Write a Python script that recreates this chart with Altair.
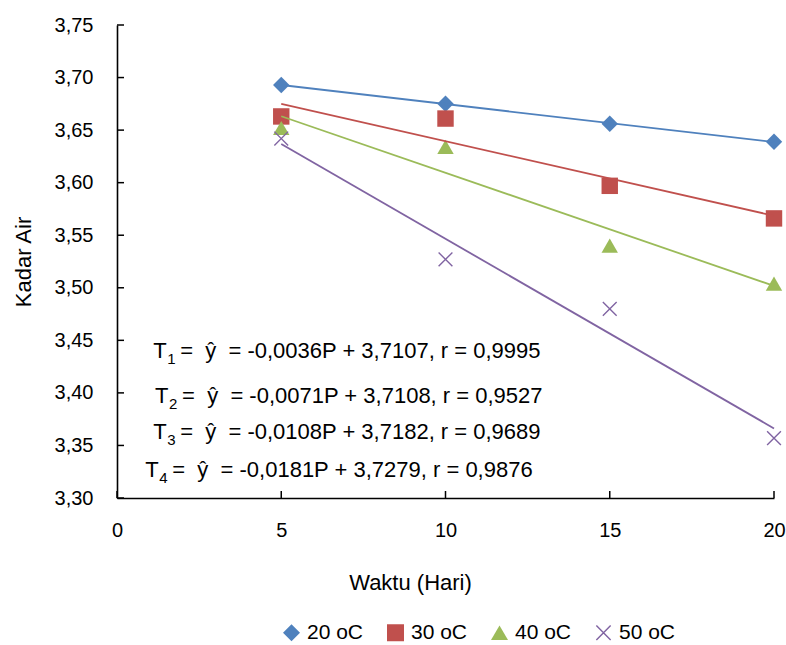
import altair as alt
import pandas as pd

# ---- data ----
waktu = [5, 10, 15, 20]
series_names = ["20 oC", "30 oC", "40 oC", "50 oC"]
kadar_20 = [3.693, 3.675, 3.656, 3.639]
kadar_30 = [3.663, 3.661, 3.597, 3.566]
kadar_40 = [3.652, 3.634, 3.540, 3.504]
kadar_50 = [3.642, 3.527, 3.480, 3.357]

x_ticks = [0, 5, 10, 15, 20]
y_ticks = [3.30, 3.35, 3.40, 3.45, 3.50, 3.55, 3.60, 3.65, 3.70, 3.75]

eq_sub = ["1", "2", "3", "4"]
eq_text = [
    "=\u00a0\u00a0\u0177\u00a0\u00a0= -0,0036P + 3,7107, r = 0,9995",
    "=\u00a0\u00a0\u0177\u00a0\u00a0= -0,0071P + 3,7108, r = 0,9527",
    "=\u00a0\u00a0\u0177\u00a0\u00a0= -0,0108P + 3,7182, r = 0,9689",
    "=\u00a0\u00a0\u0177\u00a0\u00a0= -0,0181P + 3,7279, r = 0,9876",
]
# annotation anchor positions (data coordinates)
eq_x = [1.10, 1.16, 1.10, 0.86]
eq_y = [3.4332, 3.3904, 3.3561, 3.3200]

colors = ["#4F81BD", "#C0504D", "#9BBB59", "#8064A2"]
x_path = ("M-0.9,-0.78L-0.78,-0.9L0.9,0.78L0.78,0.9Z"
          "M0.78,-0.9L0.9,-0.78L-0.78,0.9L-0.9,0.78Z")
shapes = ["diamond", "square", "triangle-up", x_path]

FONT = "Liberation Sans"

rows = []
for name, vals in zip(series_names, [kadar_20, kadar_30, kadar_40, kadar_50]):
    for w, v in zip(waktu, vals):
        rows.append({"waktu": w, "kadar": v, "series": name})
df = pd.DataFrame(rows)

ann = pd.DataFrame({"waktu": eq_x, "kadar": eq_y, "sub": eq_sub, "rest": eq_text,
                    "T": ["T"] * 4})
xt = pd.DataFrame({"waktu": x_ticks})
yt = pd.DataFrame({"kadar": y_ticks})

x_scale = alt.Scale(domain=[0, 20], nice=False, zero=False)
y_scale = alt.Scale(domain=[3.30, 3.75], nice=False, zero=False)
color_scale = alt.Scale(domain=series_names, range=colors)
shape_scale = alt.Scale(domain=series_names, range=shapes)

x_axis = alt.Axis(
    values=x_ticks, title="Waktu (Hari)", ticks=False, tickSize=0,
    labelPadding=22, labelFontSize=20, labelFont=FONT, labelColor="black",
    labelFlush=False,
    grid=False, domainColor="black", domainWidth=1.6,
    titleFont=FONT, titleFontSize=22, titleFontWeight="normal",
    titleColor="black", titleX=293, titleY=91, titleBaseline="alphabetic",
    titleAlign="center",
)
y_axis = alt.Axis(
    values=y_ticks, title="Kadar Air", ticks=False, tickSize=0,
    labelExpr="replace(format(datum.value, '.2f'), '.', ',')",
    labelPadding=24, labelFontSize=20, labelFont=FONT, labelColor="black",
    labelFlush=False,
    grid=False, domainColor="black", domainWidth=1.6,
    titleFont=FONT, titleFontSize=22, titleFontWeight="normal",
    titleColor="black", titleX=-94, titleY=236.5, titleAngle=-90,
    titleBaseline="middle", titleAlign="center",
)

X = alt.X("waktu:Q", scale=x_scale, axis=x_axis, title="Waktu (Hari)")
Y = alt.Y("kadar:Q", scale=y_scale, axis=y_axis, title="Kadar Air")

base = alt.Chart(df)

points = base.mark_point(filled=True, opacity=1, size=270).encode(
    x=X, y=Y,
    color=alt.Color("series:N", scale=color_scale, sort=series_names,
                    legend=alt.Legend(
                        orient="none", legendX=164, legendY=597,
                        direction="horizontal", columns=4, title=None,
                        labelFontSize=21, labelFont=FONT, labelColor="black",
                        symbolSize=289, labelOffset=5, columnPadding=21,
                        padding=0, symbolStrokeWidth=0)),
    shape=alt.Shape("series:N", scale=shape_scale, sort=series_names),
)

lines = base.transform_regression(
    "waktu", "kadar", groupby=["series"], method="linear"
).mark_line(strokeWidth=1.8).encode(
    x=X, y=Y,
    color=alt.Color("series:N", scale=color_scale, legend=None),
)

xticks = alt.Chart(xt).mark_rule(color="black", strokeWidth=1.5).encode(
    x=X, y=alt.value(473), y2=alt.value(466),
)
yticks = alt.Chart(yt).mark_rule(color="black", strokeWidth=1.5).encode(
    y=Y, x=alt.value(0), x2=alt.value(7),
)

ann_base = alt.Chart(ann).encode(x=X, y=Y)
t_main = ann_base.mark_text(align="left", baseline="alphabetic", font=FONT,
                            fontSize=22, color="black").encode(text="T:N")
t_sub = ann_base.mark_text(align="left", baseline="alphabetic", font=FONT,
                           fontSize=15, color="black", dx=14, dy=6).encode(text="sub:N")
t_rest = ann_base.mark_text(align="left", baseline="alphabetic", font=FONT,
                            fontSize=22, color="black", dx=27).encode(text="rest:N")

chart = alt.layer(points, lines, xticks, yticks, t_main, t_sub, t_rest).properties(
    width=657, height=473,
    autosize=alt.AutoSizeParams(type="none"),
    padding={"left": 117, "top": 25, "right": 12, "bottom": 147},
    background="white",
).configure_view(stroke=None)

chart.save("out.html", embed_options={"renderer": "svg", "actions": False})
